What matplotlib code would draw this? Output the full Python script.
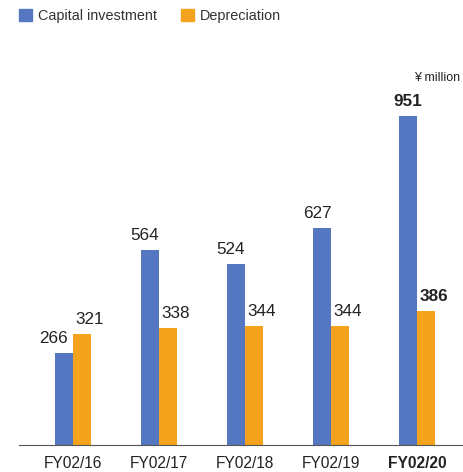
import numpy as np
import matplotlib.pyplot as plt
from matplotlib.patches import Patch

plt.rcParams['font.family'] = ['Liberation Sans', 'DejaVu Sans']

years = ["FY02/16", "FY02/17", "FY02/18", "FY02/19", "FY02/20"]
capital = [266, 564, 524, 627, 951]
depreciation = [321, 338, 344, 344, 386]

blue = "#5577c1"
orange = "#f5a31d"
txt = "#222222"

fig = plt.figure(figsize=(4.64, 4.72), dpi=100)
ax = fig.add_axes([19 / 464, 27 / 472, 445 / 464, 380.6 / 472])

x = np.arange(len(years))
w = 0.21
ax.bar(x - w / 2, capital, w, color=blue)
ax.bar(x + w / 2, depreciation, w, color=orange)

# labels sit a bit outward from the bar centres
blue_shift = [-10, -5, -5, -5, 0]
for i in range(len(years)):
    wt = "bold" if i == len(years) - 1 else "normal"
    ax.annotate(str(capital[i]), (x[i] - w / 2, capital[i]), xytext=(blue_shift[i] * 0.72, 5),
                textcoords="offset points", ha="center", va="bottom",
                fontsize=12.3, color=txt, fontweight=wt)
    ax.annotate(str(depreciation[i]), (x[i] + w / 2, depreciation[i]), xytext=(8 * 0.72, 5),
                textcoords="offset points", ha="center", va="bottom",
                fontsize=12.3, color=txt, fontweight=wt)

ax.set_xlim(-0.628, 4.547)
ax.set_ylim(0, 1100)
ax.set_xticks(x)
ax.set_xticklabels(years, fontsize=11.2, color=txt)
ax.get_xticklabels()[-1].set_fontweight("bold")
ax.tick_params(axis="x", length=0, pad=8)
ax.set_yticks([])
for s in ["top", "right", "left"]:
    ax.spines[s].set_visible(False)
ax.spines["bottom"].set_color("#555555")

fig.text(460 / 464, 1 - 78 / 472, "¥ million", fontsize=9, ha="right", va="center", color=txt)

handles = [Patch(color=blue, label="Capital investment"), Patch(color=orange, label="Depreciation")]
fig.legend(handles=handles, loc="upper left", bbox_to_anchor=(19 / 464, 1 - 9 / 472), ncol=2, frameon=False,
           fontsize=10.4, handlelength=0.9, handleheight=0.9, handletextpad=0.41, columnspacing=1.65,
           borderpad=0, borderaxespad=0, labelcolor="#333333")

fig.savefig("out.png", dpi=100)
